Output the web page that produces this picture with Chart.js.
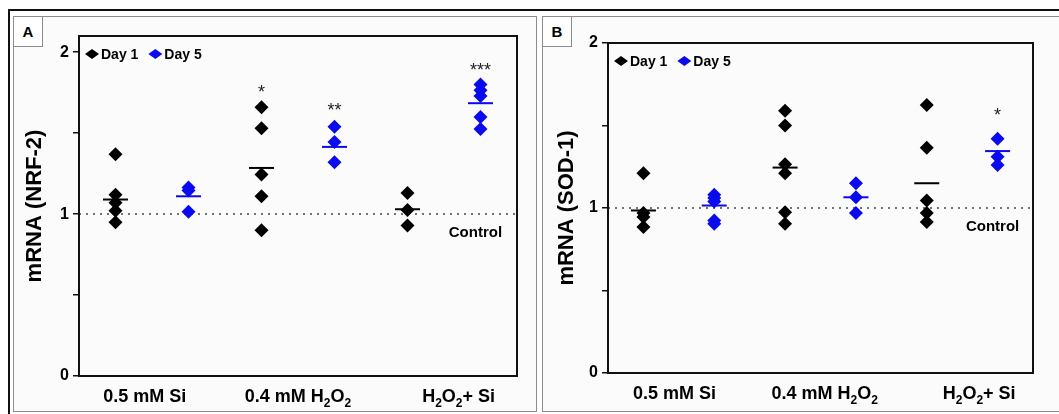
<!DOCTYPE html>
<html>
<head>
<meta charset="utf-8">
<script src="https://cdn.jsdelivr.net/npm/chart.js@4.4.1/dist/chart.umd.min.js"></script>
<style>
  body { margin: 0; width: 1059px; height: 414px; overflow: hidden; position: relative; background: #fff; font-family: "Liberation Sans", Arial, sans-serif; }
  .outer { position: absolute; left: 8px; top: 9px; width: 1100px; height: 430px; border-left: 2px solid #111; border-top: 2px solid #111; }
  .panel { position: absolute; top: 16px; height: 394px; border: 1px solid #8c8c8c; background: #fbfbfb; }
  #panelA { left: 13px; width: 522px; }
  #panelB { left: 542px; width: 530px; }
  .tag { position: absolute; top: 17px; width: 28px; height: 29px; background: #fff; border-right: 1px solid #8c8c8c; border-bottom: 1px solid #8c8c8c; font-weight: bold; font-size: 15px; line-height: 30px; text-align: center; color: #000; }
  canvas { position: absolute; top: 17px; }
</style>
</head>
<body>
<div class="outer"></div>
<div class="panel" id="panelA"></div>
<div class="panel" id="panelB"></div>
<div class="tag" style="left:14px">A</div>
<div class="tag" style="left:543px">B</div>
<canvas id="chartA" width="521" height="394" style="left:14px"></canvas>
<canvas id="chartB" width="516" height="394" style="left:543px"></canvas>
<script>
"use strict";

const groups = ['0.5 mM Si', '0.4 mM H₂O₂', 'H₂O₂+ Si'];
const yTicks = [0, 0.5, 1, 1.5, 2];
const controlLevel = 1;

// panel A, NRF-2
const nrfDay1 = [[1.37, 1.12, 1.07, 1.02, 0.95], [1.66, 1.53, 1.245, 1.11, 0.90], [1.13, 1.025, 0.93]];
const nrfDay5 = [[1.165, 1.145, 1.015], [1.54, 1.445, 1.32], [1.80, 1.765, 1.73, 1.60, 1.525]];
const nrfMean1 = [1.09, 1.285, 1.03];
const nrfMean5 = [1.11, 1.415, 1.685];
const nrfStars = [{ group: 1, day: 1, y: 1.78, text: '*' }, { group: 1, day: 5, y: 1.67, text: '**' }, { group: 2, day: 5, y: 1.915, text: '***' }];

// panel B, SOD-1
const sodDay1 = [[1.21, 0.97, 0.945, 0.885], [1.59, 1.50, 1.265, 1.21, 0.975, 0.905], [1.625, 1.365, 1.045, 0.97, 0.915]];
const sodDay5 = [[1.08, 1.06, 1.04, 0.925, 0.905], [1.15, 1.065, 0.97], [1.42, 1.31, 1.26]];
const sodMean1 = [0.985, 1.245, 1.15];
const sodMean5 = [1.015, 1.065, 1.345];
const sodStars = [{ group: 2, day: 5, y: 1.585, text: '*' }];

const FONT = '"Liberation Sans", Arial, sans-serif';
const BLUE = '#0a0aee';

function xPos(group, day) {
    return group * 2 + (day === 1 ? 1 : 2);
}

function points(values, day) {
    const out = [];
    for (let g = 0; g < values.length; g++) {
        for (let i = 0; i < values[g].length; i++) {
            out.push({ x: xPos(g, day), y: values[g][i] });
        }
    }
    return out;
}

function meanPoints(means, day) {
    return means.map((m, g) => ({ x: xPos(g, day), y: m }));
}

// split a label into normal and subscript runs (₂ -> small lowered 2)
function runs(text) {
    const out = [];
    for (const ch of text) {
        const sub = ch >= '₀' && ch <= '₉';
        const c = sub ? String.fromCharCode(ch.charCodeAt(0) - 0x2080 + 48) : ch;
        if (out.length && out[out.length - 1].sub === sub) {
            out[out.length - 1].t += c;
        } else {
            out.push({ t: c, sub: sub });
        }
    }
    return out;
}

const extrasPlugin = {
    id: 'extras',
    afterDatasetsDraw(chart, args, opts) {
        const a = chart.chartArea;
        const ctx = chart.ctx;
        const xs = chart.scales.x;
        const ys = chart.scales.y;
        ctx.save();

        // plot frame
        ctx.strokeStyle = '#111';
        ctx.lineWidth = 2;
        ctx.strokeRect(a.left, a.top, a.right - a.left, a.bottom - a.top);

        // significance stars
        ctx.fillStyle = '#222';
        ctx.textAlign = 'center';
        ctx.textBaseline = 'alphabetic';
        ctx.font = '18px ' + FONT;
        opts.stars.forEach(s => {
            const px = xs.getPixelForValue(xPos(s.group, s.day));
            const py = ys.getPixelForValue(s.y);
            ctx.fillText(s.text, px, py + 10);
        });

        // control label
        ctx.fillStyle = '#000';
        ctx.textBaseline = 'middle';
        ctx.font = 'bold 15px ' + FONT;
        ctx.fillText('Control', xs.getPixelForValue(opts.controlX), ys.getPixelForValue(opts.controlY));

        // legend
        ctx.textAlign = 'left';
        ctx.font = 'bold 14px ' + FONT;
        let lx = a.left + 6;
        const ly = a.top + 18;
        for (let d = 0; d < 2; d++) {
            const ds = chart.data.datasets[d];
            ctx.fillStyle = ds.backgroundColor;
            ctx.beginPath();
            ctx.moveTo(lx, ly);
            ctx.lineTo(lx + 7, ly - 5);
            ctx.lineTo(lx + 14, ly);
            ctx.lineTo(lx + 7, ly + 5);
            ctx.closePath();
            ctx.fill();
            ctx.fillStyle = '#000';
            ctx.fillText(ds.label, lx + 16, ly + 1);
            lx += 16 + ctx.measureText(ds.label).width + 10;
        }

        // category labels with subscripts
        ctx.textBaseline = 'alphabetic';
        const big = 'bold 18px ' + FONT;
        const small = 'bold 12px ' + FONT;
        xs.ticks.forEach((t, i) => {
            const parts = runs(groups[i]);
            let w = 0;
            parts.forEach(p => {
                ctx.font = p.sub ? small : big;
                p.w = ctx.measureText(p.t).width;
                w += p.w;
            });
            let x = xs.getPixelForValue(t.value) - w / 2;
            const base = a.bottom + 25.5;
            parts.forEach(p => {
                ctx.font = p.sub ? small : big;
                ctx.fillText(p.t, x, p.sub ? base + 5 : base);
                x += p.w;
            });
        });
        ctx.restore();
    }
};

function makeChart(id, cfg) {
    const ctx = document.getElementById(id).getContext('2d');
    return new Chart(ctx, {
        type: 'scatter',
        data: {
            datasets: [
                {
                    label: 'Day 1',
                    data: points(cfg.day1, 1),
                    backgroundColor: '#000',
                    borderColor: '#000',
                    borderWidth: 0,
                    pointStyle: 'rectRot',
                    pointRadius: 7,
                },
                {
                    label: 'Day 5',
                    data: points(cfg.day5, 5),
                    backgroundColor: BLUE,
                    borderColor: BLUE,
                    borderWidth: 0,
                    pointStyle: 'rectRot',
                    pointRadius: 7,
                },
                {
                    label: 'mean 1',
                    data: meanPoints(cfg.mean1, 1),
                    pointStyle: 'line',
                    pointRadius: 12.5,
                    borderColor: '#000',
                    borderWidth: 2,
                },
                {
                    label: 'mean 5',
                    data: meanPoints(cfg.mean5, 5),
                    pointStyle: 'line',
                    pointRadius: 12.5,
                    borderColor: BLUE,
                    borderWidth: 2,
                },
                {
                    type: 'line',
                    label: 'control',
                    data: [{ x: 0.5, y: controlLevel }, { x: 6.5, y: controlLevel }],
                    borderColor: '#444',
                    borderWidth: 1.5,
                    borderDash: [2, 5],
                    pointRadius: 0,
                },
            ],
        },
        options: {
            responsive: false,
            animation: false,
            events: [],
            layout: { padding: { left: 0, right: cfg.padRight, top: cfg.padTop, bottom: 0 } },
            scales: {
                x: {
                    type: 'linear',
                    min: 0.5,
                    max: 6.5,
                    afterBuildTicks: s => { s.ticks = cfg.labelX.map(v => ({ value: v })); },
                    afterFit: s => { s.height = cfg.xHeight; },
                    ticks: { display: false },
                    grid: { display: false },
                    border: { display: false },
                },
                y: {
                    type: 'linear',
                    min: 0,
                    max: cfg.yMax,
                    afterBuildTicks: s => { s.ticks = yTicks.map(v => ({ value: v })); },
                    afterFit: s => { s.width = 65; },
                    ticks: {
                        callback: v => Number.isInteger(v) ? v : '',
                        font: { family: FONT, size: 16, weight: 'bold' },
                        color: '#000',
                        padding: 4,
                    },
                    grid: { drawOnChartArea: false, drawTicks: true, tickLength: 6, color: '#111', lineWidth: 1.5 },
                    border: { display: false },
                    title: {
                        display: true,
                        text: cfg.title,
                        font: { family: FONT, size: 22, weight: 'bold' },
                        color: '#000',
                        padding: { top: cfg.titlePad, bottom: 0 },
                    },
                },
            },
            plugins: {
                tooltip: { enabled: false },
                legend: { display: false },
                extras: { stars: cfg.stars, controlX: 5.93, controlY: 0.885 },
            },
        },
        plugins: [extrasPlugin],
    });
}

makeChart('chartA', {
    day1: nrfDay1, day5: nrfDay5, mean1: nrfMean1, mean5: nrfMean5, stars: nrfStars,
    title: 'mRNA (NRF-2)', yMax: 2.1, labelX: [1.4, 3.5, 5.7],
    padRight: 18, padTop: 19, xHeight: 35, titlePad: 8,
});

makeChart('chartB', {
    day1: sodDay1, day5: sodDay5, mean1: sodMean1, mean5: sodMean5, stars: sodStars,
    title: 'mRNA (SOD-1)', yMax: 2, labelX: [1.44, 3.56, 5.74],
    padRight: 26, padTop: 26, xHeight: 38, titlePad: 11,
});
</script>
</body>
</html>
